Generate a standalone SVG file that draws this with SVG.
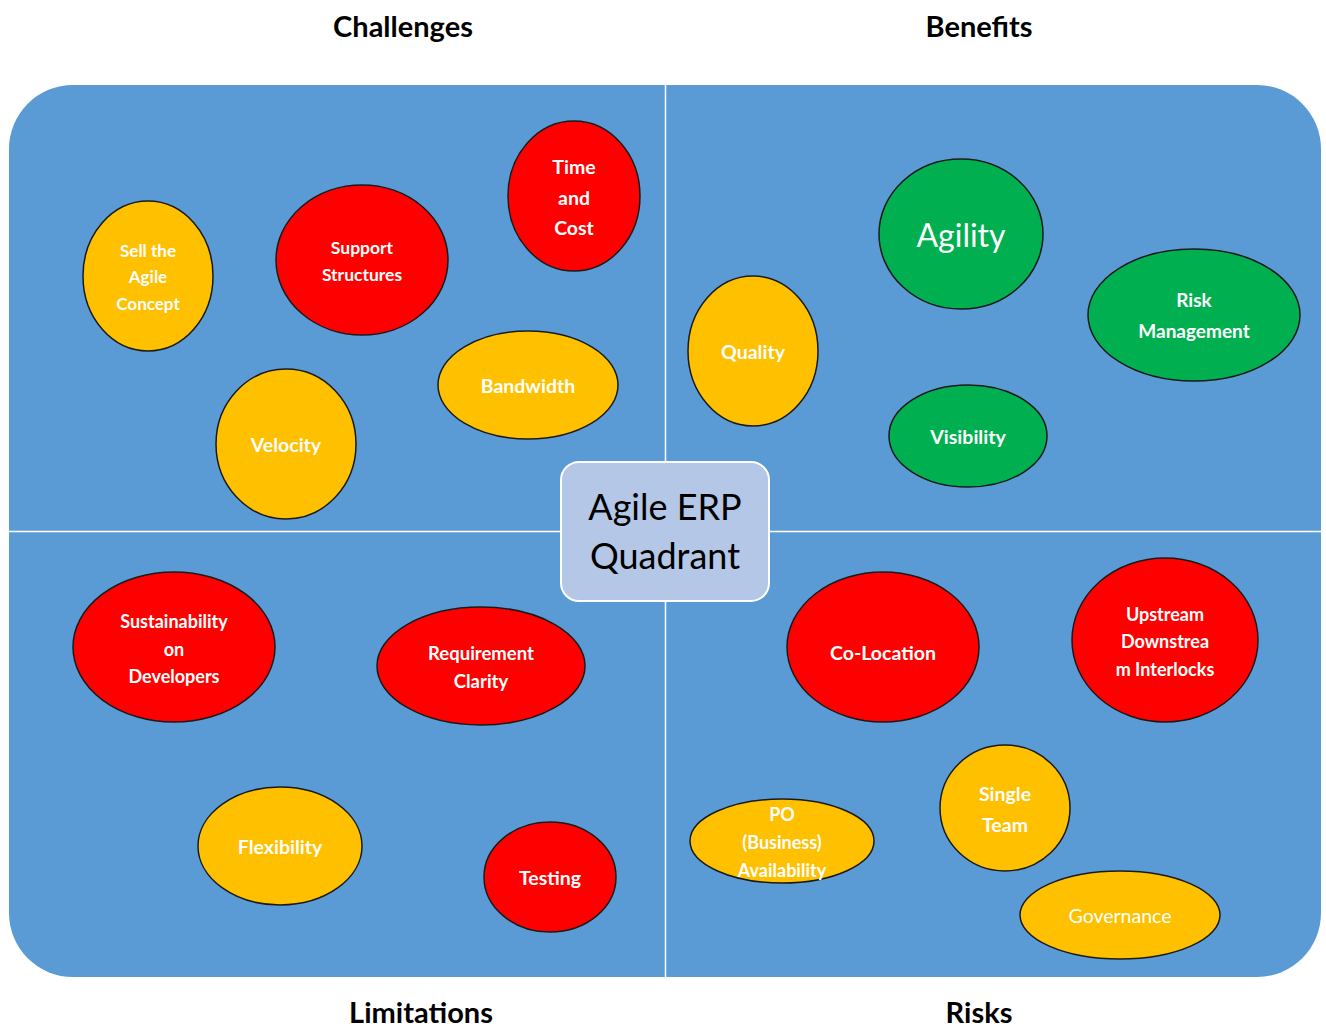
<svg xmlns="http://www.w3.org/2000/svg" width="1326" height="1027" viewBox="0 0 1326 1027">
<style>
.hdr{font-family:Lato,"Open Sans","Liberation Sans",sans-serif;font-weight:bold;font-size:29px;fill:#000;text-anchor:middle}
.t{font-family:Lato,"Open Sans","Liberation Sans",sans-serif;font-weight:bold;fill:#fff;text-anchor:middle;dominant-baseline:central}
.n{font-weight:normal}
.y{fill:#FFC000;stroke:#1a1a1a;stroke-width:1.5}
.r{fill:#FF0000;stroke:#1a1a1a;stroke-width:1.5}
.g{fill:#00B050;stroke:#1a1a1a;stroke-width:1.5}
</style>
<rect width="1326" height="1027" fill="#fff"/>
<g id="background">
<rect x="9" y="85" width="1312" height="892" rx="64" fill="#5B9BD5"/>
<line x1="665.5" y1="85" x2="665.5" y2="977" stroke="#fff" stroke-width="1.5"/>
<line x1="9" y1="531.5" x2="1321" y2="531.5" stroke="#fff" stroke-width="1.5"/>
</g>
<g id="headers">
<text class="hdr" x="403" y="37">Challenges</text>
<text class="hdr" x="979" y="37">Benefits</text>
<text class="hdr" x="421" y="1023">Limitations</text>
<text class="hdr" x="979" y="1023">Risks</text>
</g>
<g id="center">
<rect x="561" y="462" width="208" height="139" rx="18" fill="#B4C7E7" stroke="#fff" stroke-width="2"/>
<text class="t n" x="665" y="506" font-size="36" fill="#000" style="fill:#000">Agile ERP</text>
<text class="t n" x="665" y="555" font-size="36" style="fill:#000">Quadrant</text>
</g>
<g id="sell-agile">
<ellipse class="y" cx="148" cy="276" rx="65" ry="75"/>
<text class="t" font-size="17"><tspan x="148" y="250">Sell the</tspan><tspan x="148" y="276">Agile</tspan><tspan x="148" y="303">Concept</tspan></text>
</g>
<g id="support-structures">
<ellipse class="r" cx="362" cy="260" rx="86" ry="75"/>
<text class="t" font-size="17.5"><tspan x="362" y="247">Support</tspan><tspan x="362" y="274">Structures</tspan></text>
</g>
<g id="time-cost">
<ellipse class="r" cx="574" cy="196" rx="66" ry="75"/>
<text class="t" font-size="19.5"><tspan x="574" y="166">Time</tspan><tspan x="574" y="197">and</tspan><tspan x="574" y="227">Cost</tspan></text>
</g>
<g id="bandwidth">
<ellipse class="y" cx="528" cy="385" rx="90" ry="54"/>
<text class="t" x="528" y="385" font-size="19.5">Bandwidth</text>
</g>
<g id="velocity">
<ellipse class="y" cx="286" cy="444" rx="70" ry="75"/>
<text class="t" x="286" y="444" font-size="19.5">Velocity</text>
</g>
<g id="agility">
<ellipse class="g" cx="961" cy="234" rx="82" ry="75"/>
<text class="t n" x="961" y="234" font-size="32">Agility</text>
</g>
<g id="risk-management">
<ellipse class="g" cx="1194" cy="315" rx="106" ry="66"/>
<text class="t" font-size="19"><tspan x="1194" y="299">Risk</tspan><tspan x="1194" y="330">Management</tspan></text>
</g>
<g id="quality">
<ellipse class="y" cx="753" cy="351" rx="65" ry="75"/>
<text class="t" x="753" y="351" font-size="19.5">Quality</text>
</g>
<g id="visibility">
<ellipse class="g" cx="968" cy="436" rx="79" ry="51"/>
<text class="t" x="968" y="436" font-size="19.5">Visibility</text>
</g>
<g id="sustainability">
<ellipse class="r" cx="174" cy="647" rx="101" ry="75"/>
<text class="t" font-size="18"><tspan x="174" y="621">Sustainability</tspan><tspan x="174" y="649">on</tspan><tspan x="174" y="676">Developers</tspan></text>
</g>
<g id="requirement-clarity">
<ellipse class="r" cx="481" cy="666" rx="104" ry="59"/>
<text class="t" font-size="18.5"><tspan x="481" y="653">Requirement</tspan><tspan x="481" y="681">Clarity</tspan></text>
</g>
<g id="flexibility">
<ellipse class="y" cx="280" cy="846" rx="82" ry="59"/>
<text class="t" x="280" y="846" font-size="19.5">Flexibility</text>
</g>
<g id="testing">
<ellipse class="r" cx="550" cy="877" rx="66" ry="55"/>
<text class="t" x="550" y="877" font-size="19.5">Testing</text>
</g>
<g id="co-location">
<ellipse class="r" cx="883" cy="647" rx="96" ry="75"/>
<text class="t" x="883" y="652" font-size="19.5">Co-Location</text>
</g>
<g id="upstream-downstream">
<ellipse class="r" cx="1165" cy="640" rx="93" ry="82"/>
<text class="t" font-size="18"><tspan x="1165" y="614">Upstream</tspan><tspan x="1165" y="641">Downstrea</tspan><tspan x="1165" y="669">m Interlocks</tspan></text>
</g>
<g id="single-team">
<ellipse class="y" cx="1005" cy="808" rx="65" ry="63"/>
<text class="t" font-size="19.5"><tspan x="1005" y="793">Single</tspan><tspan x="1005" y="824">Team</tspan></text>
</g>
<g id="po-availability">
<ellipse class="y" cx="782" cy="841" rx="92" ry="42"/>
<text class="t" font-size="18"><tspan x="782" y="814">PO</tspan><tspan x="782" y="842">(Business)</tspan><tspan x="782" y="870">Availability</tspan></text>
</g>
<g id="governance">
<ellipse class="y" cx="1120" cy="915" rx="100" ry="44"/>
<text class="t n" x="1120" y="915" font-size="19.5">Governance</text>
</g>
<g id="connectors"></g>
</svg>
